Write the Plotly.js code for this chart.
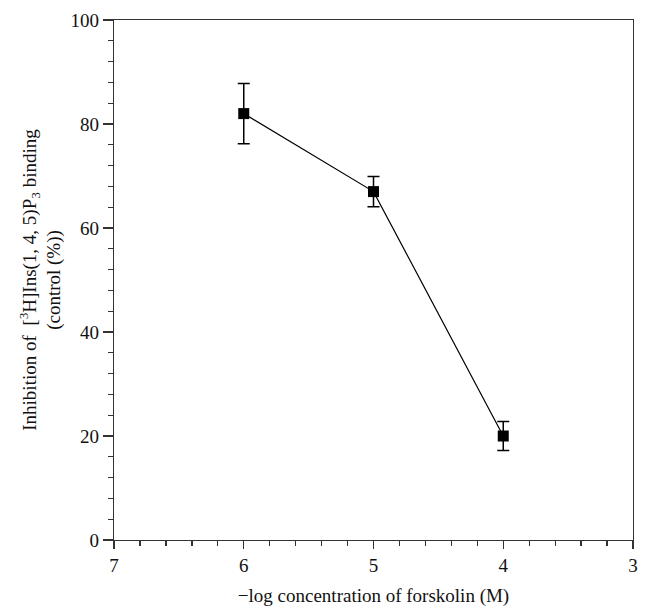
<!DOCTYPE html>
<html>
<head>
<meta charset="utf-8">
<script src="https://cdn.plot.ly/plotly-3.0.1.min.js"></script>
<style>html,body{margin:0;padding:0;background:#fff;}#chart{width:646px;height:607px;}</style>
</head>
<body>
<div id="chart"></div>
<script>
var concentrations = [6, 5, 4];
var inhibition = [82, 67, 20];
var errors = [5.8, 2.9, 2.8];
var xTickVals = [7, 6, 5, 4, 3];
var yTickVals = [0, 20, 40, 60, 80, 100];

var trace = {
  x: concentrations,
  y: inhibition,
  type: 'scatter',
  mode: 'lines+markers',
  line: {color: '#000', width: 1.2},
  marker: {symbol: 'square', size: 11, color: '#000'},
  error_y: {type: 'data', array: errors, visible: true, color: '#000', thickness: 1.5, width: 6},
  showlegend: false
};

var fontFam = 'Liberation Serif';
var layout = {
  width: 646, height: 607,
  margin: {l: 114, r: 13, t: 20, b: 67},
  paper_bgcolor: '#fff', plot_bgcolor: '#fff',
  font: {family: fontFam, size: 19, color: '#111'},
  xaxis: {
    range: [7, 3],
    tickvals: xTickVals,
    ticks: 'outside', ticklen: 8, tickwidth: 1.3, tickcolor: '#333',
    minor: {dtick: 0.2, ticks: 'outside', ticklen: 5, tickwidth: 1.3, tickcolor: '#333'},
    showline: true, linecolor: '#333', linewidth: 1.3, mirror: true,
    showgrid: false, zeroline: false,
    tickfont: {family: fontFam, size: 19},
    title: {text: '\u2212log concentration of forskolin (M)', font: {family: fontFam, size: 19}, standoff: 14}
  },
  yaxis: {
    range: [0, 100],
    tickvals: yTickVals,
    ticks: 'outside', ticklen: 10, tickwidth: 1.3, tickcolor: '#333',
    minor: {dtick: 4, ticks: 'outside', ticklen: 5, tickwidth: 1.3, tickcolor: '#333'},
    showline: true, linecolor: '#333', linewidth: 1.3, mirror: true,
    showgrid: false, zeroline: false,
    tickfont: {family: fontFam, size: 19},
    title: {text: 'Inhibition of  [<sup>3</sup>H]Ins(1, 4, 5)P<sub>3</sub> binding<br>(control (%))', font: {family: fontFam, size: 19}, standoff: 4}
  }
};
Plotly.newPlot('chart', [trace], layout, {staticPlot: true, displayModeBar: false});
</script>
</body>
</html>
